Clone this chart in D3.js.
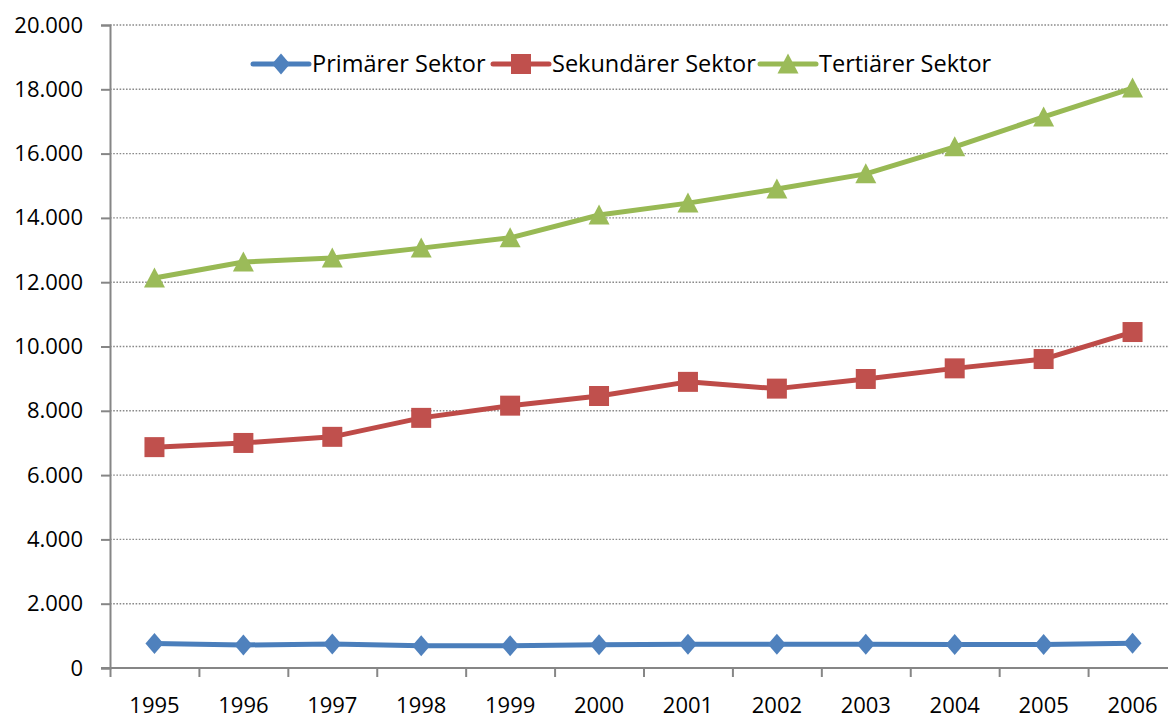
<!DOCTYPE html>
<html>
<head>
<meta charset="utf-8">
<script src="https://cdn.jsdelivr.net/npm/d3@7"></script>
<style>
  body { margin: 0; background: #fff; }
  svg { display: block; }
  text { font-family: "Open Sans", sans-serif; fill: #000; }
</style>
</head>
<body>
<script>
const years = ["1995", "1996", "1997", "1998", "1999", "2000", "2001", "2002", "2003", "2004", "2005", "2006"];
const primaer = [760, 715, 750, 690, 695, 720, 740, 740, 735, 730, 730, 770];
const sekundaer = [6870, 7000, 7190, 7780, 8160, 8460, 8900, 8690, 8990, 9320, 9610, 10450];
const tertiaer = [12130, 12630, 12750, 13060, 13380, 14090, 14460, 14900, 15370, 16210, 17140, 18040];
const yTicks = [0, 2000, 4000, 6000, 8000, 10000, 12000, 14000, 16000, 18000, 20000];

const series = [
  {name: "Primärer Sektor", values: primaer, line: "#4A7EBB", fill: "#4F81BD", marker: "diamond"},
  {name: "Sekundärer Sektor", values: sekundaer, line: "#BE4B48", fill: "#C0504D", marker: "square"},
  {name: "Tertiärer Sektor", values: tertiaer, line: "#98B954", fill: "#9BBB59", marker: "triangle"}
];

const width = 1168, height = 720;
const plotLeft = 110, plotRight = 1177, plotTop = 25, plotBottom = 668;

const svg = d3.select("body").append("svg")
  .attr("width", width)
  .attr("height", height)
  .attr("xmlns", "http://www.w3.org/2000/svg");

const x = d3.scaleBand().domain(years).range([plotLeft, plotRight]).padding(0);
const xEdge = d3.scaleLinear().domain([0, years.length]).range([plotLeft, plotRight]);
const y = d3.scaleLinear().domain([0, 20000]).range([plotBottom, plotTop]);

// gridlines
svg.append("g").selectAll("line")
  .data(yTicks.filter(d => d > 0))
  .enter().append("line")
  .attr("x1", plotLeft).attr("x2", plotRight)
  .attr("y1", d => y(d)).attr("y2", d => y(d))
  .attr("stroke", "#8a8a8a")
  .attr("stroke-width", 1.4)
  .attr("stroke-dasharray", "1.6,1.6");

// y axis
const yAxis = svg.append("g")
  .attr("transform", `translate(${plotLeft},0)`)
  .call(d3.axisLeft(y).tickValues(yTicks).tickSize(9).tickPadding(18)
    .tickFormat(d => d3.format(",")(d).replace(/,/g, ".")));
yAxis.select(".domain").attr("stroke", "#868686").attr("stroke-width", 2);
yAxis.selectAll(".tick line").attr("stroke", "#868686").attr("stroke-width", 2);
yAxis.selectAll("text").style("font-size", "22px").attr("fill", "#000");

// x axis: ticks at category edges
const xTicks = svg.append("g")
  .attr("transform", `translate(0,${plotBottom})`)
  .call(d3.axisBottom(xEdge).tickValues(d3.range(years.length + 1)).tickSize(9).tickFormat(""));
xTicks.select(".domain").remove();
xTicks.selectAll(".tick line").attr("stroke", "#868686").attr("stroke-width", 2);
svg.append("line")
  .attr("x1", plotLeft - 9).attr("x2", plotRight)
  .attr("y1", plotBottom).attr("y2", plotBottom)
  .attr("stroke", "#868686").attr("stroke-width", 2);

const xLabels = svg.append("g")
  .attr("transform", `translate(0,${plotBottom})`)
  .call(d3.axisBottom(x).tickSize(0).tickPadding(29));
xLabels.select(".domain").remove();
xLabels.selectAll("text").style("font-size", "22px").attr("fill", "#000");

function markerPath(type) {
  if (type === "diamond") return "M0,-10.5L9,0L0,10.5L-9,0Z";
  if (type === "square") return "M-10,-10H10V10H-10Z";
  return "M0,-10.5L10.5,9.5L-10.5,9.5Z";
}

const line = d3.line()
  .x((d, i) => x(years[i]) + x.bandwidth() / 2)
  .y(d => y(d));

series.forEach(s => {
  svg.append("path")
    .datum(s.values)
    .attr("fill", "none")
    .attr("stroke", s.line)
    .attr("stroke-width", 5)
    .attr("stroke-linejoin", "round")
    .attr("stroke-linecap", "round")
    .attr("d", line);
  svg.append("g").selectAll("path")
    .data(s.values)
    .enter().append("path")
    .attr("transform", (d, i) => `translate(${x(years[i]) + x.bandwidth() / 2},${y(d)})`)
    .attr("d", markerPath(s.marker))
    .attr("fill", s.fill);
});

// legend
const legendX = [253, 493, 760];
const legendY = 64;
const legend = svg.append("g").selectAll("g")
  .data(series)
  .enter().append("g")
  .attr("transform", (d, i) => `translate(${legendX[i]},${legendY})`);
legend.append("line")
  .attr("x1", 0).attr("x2", 56)
  .attr("stroke", d => d.line)
  .attr("stroke-width", 5)
  .attr("stroke-linecap", "round");
legend.append("path")
  .attr("transform", "translate(28,0)")
  .attr("d", d => markerPath(d.marker))
  .attr("fill", d => d.fill);
legend.append("text")
  .attr("x", 59)
  .attr("dy", "0.35em")
  .style("font-size", "23.5px")
  .text(d => d.name);
</script>
</body>
</html>
